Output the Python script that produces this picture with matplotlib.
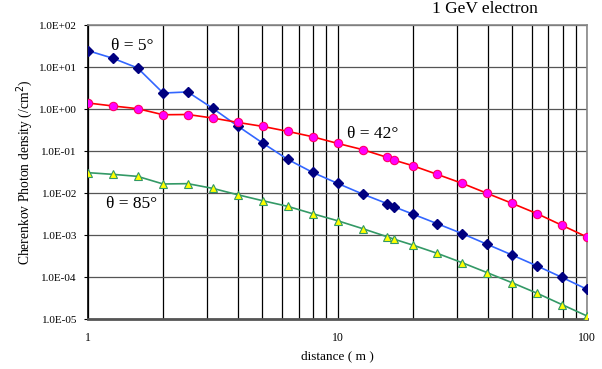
import matplotlib.pyplot as plt
from matplotlib.ticker import FixedLocator, NullFormatter

# distance (m)
dist = [1, 1.26, 1.58, 2, 2.51, 3.16, 3.98, 5.01, 6.31, 7.94, 10, 12.6, 15.8, 16.8,
        20, 25.1, 31.6, 39.8, 50.1, 63.1, 79.4, 100]

# photon density (/cm^2)
theta5 = [24.5, 16.1, 9.5, 2.4, 2.55, 1.04, 0.394, 0.155, 0.0634, 0.0311, 0.017,
          0.00946, 0.0056, 0.00473, 0.00316, 0.00186, 0.00108, 0.0006, 0.000334,
          0.000183, 9.8e-5, 5.1e-5]
theta42 = [1.39, 1.18, 1.02, 0.73, 0.74, 0.61, 0.48, 0.386, 0.294, 0.219, 0.152,
           0.108, 0.0707, 0.061, 0.0448, 0.0278, 0.017, 0.0098, 0.00567, 0.00322,
           0.0017, 0.000896]
theta85 = [0.0305, 0.0278, 0.0249, 0.0164, 0.0167, 0.0129, 0.0091, 0.00656, 0.00482,
           0.00322, 0.00219, 0.00142, 0.00091, 0.0008, 0.000578, 0.000366, 0.000219,
           0.000127, 7.3e-5, 4.1e-5, 2.2e-5, 1.18e-5]

ytick_vals = [1e-5, 1e-4, 1e-3, 1e-2, 1e-1, 1e0, 1e1, 1e2]
ytick_labels = ["1.0E-05", "1.0E-04", "1.0E-03", "1.0E-02", "1.0E-01",
                "1.0E+00", "1.0E+01", "1.0E+02"]
xtick_vals = [1, 10, 100]
xtick_labels = ["1", "10", "100"]
xminor = [2, 3, 4, 5, 6, 7, 8, 9, 20, 30, 40, 50, 60, 70, 80, 90]

plt.rcParams['font.family'] = ['Liberation Serif', 'DejaVu Serif']

fig = plt.figure(figsize=(6.02, 3.69), dpi=100)
ax = fig.add_axes([0.1462, 0.1355, 0.8289, 0.7967])
ax.set_xscale('log')
ax.set_yscale('log')
ax.set_xlim(1, 100)
ax.set_ylim(1e-5, 1e2)

# grid
ax.xaxis.set_minor_locator(FixedLocator(xminor))
ax.xaxis.set_minor_formatter(NullFormatter())
ax.yaxis.set_minor_locator(FixedLocator([]))
ax.grid(True, which='major', axis='y', color='#555555', lw=0.9)
ax.grid(True, which='major', axis='x', color='black', lw=0.9)
ax.grid(True, which='minor', axis='x', color='black', lw=0.9)

ax.plot(dist, theta5, color='#3366FF', lw=1.2, marker='D', ms=4.8,
        mfc='#000080', mec='#000080', zorder=3)
ax.plot(dist, theta42, color='#FF0000', lw=1.2, marker='o', ms=6,
        mfc='#FF00FF', mec='#FF0066', mew=0.8, zorder=3)
ax.plot(dist, theta85, color='#339966', lw=1.2, marker='^', ms=5.5,
        mfc='#FFFF00', mec='#339966', mew=0.8, zorder=3)

ax.set_yticks(ytick_vals)
ax.set_yticklabels(ytick_labels)
ax.set_xticks(xtick_vals)
ax.set_xticklabels(xtick_labels)
ax.tick_params(axis='y', which='major', length=3, labelsize=8, pad=5)
ax.tick_params(axis='x', which='both', length=0, labelsize=8.5, pad=9)

for side in ['top', 'right']:
    ax.spines[side].set_color('#888888')
    ax.spines[side].set_linewidth(1.2)
ax.spines['bottom'].set_color('#555555')
ax.spines['bottom'].set_linewidth(2)
ax.spines['left'].set_color('black')
ax.spines['left'].set_linewidth(1.2)

ax.set_xlabel("distance ( m )", fontsize=9.5, labelpad=5)
ax.set_ylabel("Cherenkov Photon density (/cm$^2$)", fontsize=9.8, labelpad=3)

ax.text(0.046, 0.928, "θ = 5°", transform=ax.transAxes, fontsize=12.5,
        ha='left', va='center')
ax.text(0.52, 0.63, "θ = 42°", transform=ax.transAxes, fontsize=12.5,
        ha='left', va='center')
ax.text(0.036, 0.39, "θ = 85°", transform=ax.transAxes, fontsize=12.5,
        ha='left', va='center')
fig.text(0.805, 0.975, "1 GeV electron", fontsize=12.5, ha='center', va='center')

fig.savefig("out.png", dpi=100)
